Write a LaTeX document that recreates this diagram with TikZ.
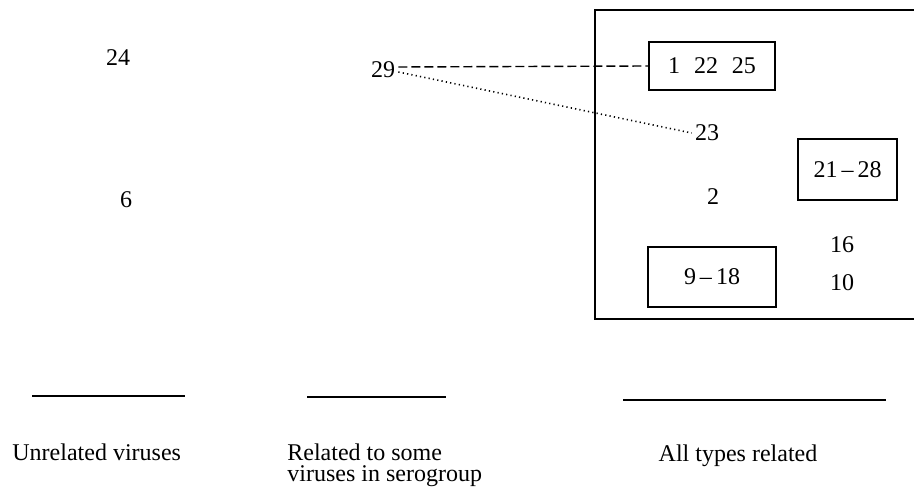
\documentclass[tikz,border=0pt]{standalone}
\usepackage{fontspec}
\setmainfont{Liberation Serif}
\begin{document}
\begin{tikzpicture}[x=0.5pt,y=-0.5pt,
  every node/.style={font=\fontsize{12}{10}\selectfont, inner sep=1.5pt},
  numlabel/.style={},
  groupbox/.style={draw, line width=0.8pt, inner sep=0pt, align=center},
  frameline/.style={line width=0.8pt},
  baseline/.style={line width=0.8pt},
  caption/.style={inner sep=0pt, text height=8pt, text depth=2pt}]
\useasboundingbox (0,0) rectangle (914,490);

% serotypes not related to the others
\node[numlabel] (n24) at (118,58) {24};
\node[numlabel] (n6) at (126,200) {6};

% type related to only part of the serogroup
\node[numlabel] (n29) at (383,70) {29};

% frame holding the types that are all related
\coordinate (ftr) at (914,10);
\coordinate (ftl) at (595,10);
\coordinate (fbl) at (595,319);
\coordinate (fbr) at (914,319);
\draw[frameline] (ftr) -- (ftl) -- (fbl) -- (fbr);

\node[groupbox, minimum width=63pt, minimum height=24pt] (bA) at (712,66)
  {1\hspace{7pt}22\hspace{7pt}25};
\node[groupbox, minimum width=49.5pt, minimum height=30.5pt] (bB) at (847.5,169.5)
  {21\,--\,28};
\node[groupbox, minimum width=64pt, minimum height=30pt] (bC) at (712,277)
  {9\,--\,18};

\node[numlabel] (n23) at (707,133) {23};
\node[numlabel] (n2) at (713,197) {2};
\node[numlabel] (n16) at (842,245) {16};
\node[numlabel] (n10) at (842,283) {10};

% links from 29
\draw[line width=0.7pt, dash pattern=on 4.5pt off 2pt] ([yshift=1.5pt]n29.east) -- (bA.west);
\draw[line width=0.8pt, dash pattern=on 0.6pt off 1.6pt] ([yshift=-1pt]n29.east) -- (n23.west);

% column rules and captions
\coordinate (r1a) at (32,396);  \coordinate (r1b) at (185,396);
\coordinate (r2a) at (307,397); \coordinate (r2b) at (446,397);
\coordinate (r3a) at (623,400); \coordinate (r3b) at (886,400);
\draw[baseline] (r1a) -- (r1b);
\draw[baseline] (r2a) -- (r2b);
\draw[baseline] (r3a) -- (r3b);

\node[caption, anchor=west] (c1) at (12,455) {Unrelated viruses};
\node[caption, anchor=west] (c2a) at (287,455) {Related to some};
\node[caption, anchor=west] (c2b) at (287,476) {viruses in serogroup};
\node[caption] (c3) at (738,456) {All types related};
\end{tikzpicture}
\end{document}
